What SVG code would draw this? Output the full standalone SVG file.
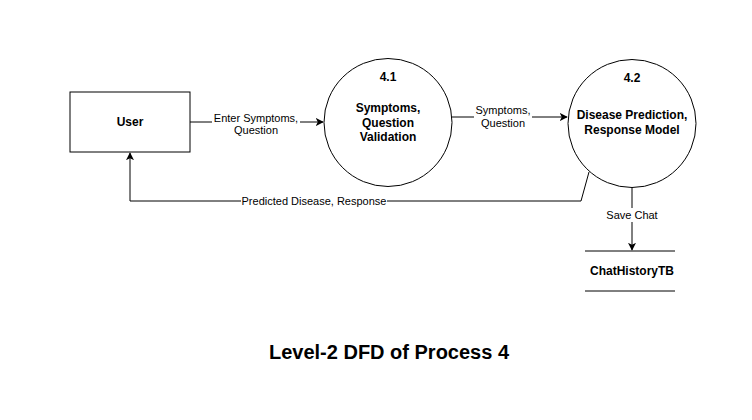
<svg xmlns="http://www.w3.org/2000/svg" width="752" height="420" viewBox="0 0 752 420">
<style>
.shape{fill:#fff;stroke:#000;stroke-width:1}
.edge{fill:none;stroke:#000;stroke-width:1}
.t{font-family:"Liberation Sans",Arial,sans-serif;font-size:12px;font-weight:bold;fill:#000;text-anchor:middle;dominant-baseline:central}
.lbl{font-family:"Liberation Sans",Arial,sans-serif;font-size:11px;fill:#000;text-anchor:middle;dominant-baseline:central}
.bg{fill:#fff;stroke:none}
</style>
<defs>
<marker id="arr" viewBox="0 0 10 10" refX="9" refY="5" markerWidth="8" markerHeight="8" markerUnits="userSpaceOnUse" orient="auto">
<path d="M0,0 L10,5 L0,10 L2.5,5 Z" fill="#000"/>
</marker>
</defs>
<rect width="752" height="420" fill="#fff"/>
<g id="connectors">
<path class="edge" d="M190,122 L323,122" marker-end="url(#arr)"/>
<rect class="bg" x="212" y="110" width="88" height="27"/>
<text class="lbl" x="256" y="118">Enter Symptoms,</text>
<text class="lbl" x="256" y="130">Question</text>
<path class="edge" d="M452,117 L567,117" marker-end="url(#arr)"/>
<rect class="bg" x="474" y="103" width="58" height="27"/>
<text class="lbl" x="503" y="110">Symptoms,</text>
<text class="lbl" x="503" y="123">Question</text>
<path class="edge" d="M589,172 L581,201 L130,201 L130,153" marker-end="url(#arr)"/>
<rect class="bg" x="241" y="194" width="146" height="14"/>
<text class="lbl" x="314" y="201">Predicted Disease, Response</text>
<path class="edge" d="M632,187 L632,250" marker-end="url(#arr)"/>
<rect class="bg" x="605" y="208" width="54" height="14"/>
<text class="lbl" x="632" y="215">Save Chat</text>
</g>
<g id="user">
<rect class="shape" x="70" y="92" width="120" height="60"/>
<text class="t" x="130" y="122">User</text>
</g>
<g id="p41">
<circle class="shape" cx="388" cy="122.5" r="64"/>
<text class="t" x="388" y="77">4.1</text>
<text class="t" x="388" y="108">Symptoms,</text>
<text class="t" x="388" y="123">Question</text>
<text class="t" x="388" y="137">Validation</text>
</g>
<g id="p42">
<circle class="shape" cx="632" cy="123.5" r="64"/>
<text class="t" x="632" y="78">4.2</text>
<text class="t" x="632" y="115">Disease Prediction,</text>
<text class="t" x="632" y="130">Response Model</text>
</g>
<g id="store">
<line class="edge" x1="585" y1="251" x2="675" y2="251"/>
<line class="edge" x1="585" y1="291" x2="675" y2="291"/>
<text class="t" x="632" y="271">ChatHistoryTB</text>
</g>
<g id="title">
<text x="389" y="352" style="font-family:'Liberation Sans',Arial,sans-serif;font-size:20px;font-weight:bold;text-anchor:middle;dominant-baseline:central">Level-2 DFD of Process 4</text>
</g>
</svg>
